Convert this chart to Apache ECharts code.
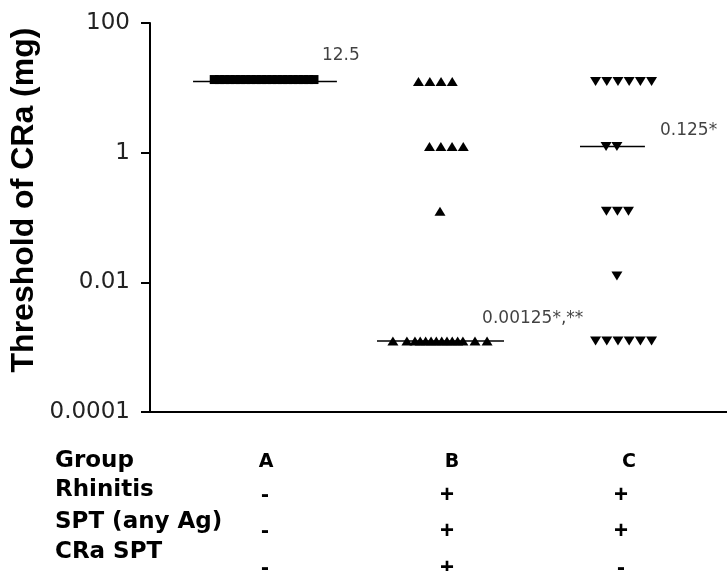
<!DOCTYPE html>
<html>
<head>
<meta charset="utf-8">
<script src="https://cdn.jsdelivr.net/npm/echarts@6/dist/echarts.min.js"></script>
<style>
  html, body { margin: 0; padding: 0; background: #fff; }
  #chart { width: 727px; height: 571px; }
</style>
</head>
<body>
<div id="chart"></div>
<script>
// group centres on the x value axis
const groupX = [1, 2, 3];
const yTickLabels = ['0.0001', '0.01', '1', '100'];

// group A - all at 12.5 mg (drawn as a solid bar of squares)
const aValues = [12.5, 12.5, 12.5, 12.5, 12.5, 12.5, 12.5, 12.5, 12.5, 12.5,
                 12.5, 12.5, 12.5, 12.5, 12.5, 12.5, 12.5, 12.5, 12.5, 12.5];
const aJitter = [-0.29, -0.26, -0.23, -0.20, -0.17, -0.14, -0.11, -0.08, -0.05, -0.02,
                 0.01, 0.04, 0.07, 0.10, 0.13, 0.16, 0.19, 0.22, 0.25, 0.28];

// group B - up triangles
const bValues = [12.5, 12.5, 12.5, 12.5,
                 1.25, 1.25, 1.25, 1.25,
                 0.125,
                 0.00125, 0.00125, 0.00125, 0.00125, 0.00125, 0.00125, 0.00125,
                 0.00125, 0.00125, 0.00125, 0.00125, 0.00125, 0.00125, 0.00125];
const bJitter = [-0.123, -0.058, 0.006, 0.070,
                 -0.060, 0.005, 0.069, 0.133,
                 0,
                 -0.269, -0.189, -0.143, -0.113, -0.082, -0.051, -0.021,
                 0.010, 0.040, 0.070, 0.101, 0.131, 0.200, 0.269];

// group C - down triangles
const cValues = [12.5, 12.5, 12.5, 12.5, 12.5, 12.5,
                 1.25, 1.25,
                 0.125, 0.125, 0.125,
                 0.0125,
                 0.00125, 0.00125, 0.00125, 0.00125, 0.00125, 0.00125];
const cJitter = [-0.111, -0.047, 0.017, 0.081, 0.145, 0.209,
                 -0.051, 0.011,
                 -0.049, 0.014, 0.077,
                 0.011,
                 -0.111, -0.047, 0.017, 0.081, 0.145, 0.209];

// medians per group
const medians = [12.5, 0.00125, 1.25];
const medianText = ['12.5', '0.00125*,**', '0.125*'];

// table under the plot
const rowLabels = ['Group', 'Rhinitis', 'SPT (any Ag)', 'CRa SPT'];
const groupNames = ['A', 'B', 'C'];
const rhinitis = ['-', '+', '+'];
const sptAny = ['-', '+', '+'];
const craSpt = ['-', '+', '-'];

function pts(center, vals, jit) {
  return vals.map((v, i) => [center + jit[i], v]);
}

// median line extents (left, right offsets from the group centre) and label offsets
const medExtent = [[-0.411, 0.411], [-0.36, 0.366], [-0.2, 0.171]];
const medLabelOffset = [[-15, -26], [-22, -22], [15, -16]];

const chart = echarts.init(document.getElementById('chart'));

const series = [
  {
    type: 'scatter',
    data: pts(groupX[0], aValues, aJitter),
    symbol: 'rect',
    symbolSize: [9, 9],
    symbolOffset: [0, -2],
    itemStyle: { color: '#000', opacity: 1 },
    z: 3
  },
  {
    type: 'scatter',
    data: pts(groupX[1], bValues, bJitter),
    symbol: 'triangle',
    symbolSize: [11, 9],
    itemStyle: { color: '#000', opacity: 1 },
    z: 3
  },
  {
    type: 'scatter',
    data: pts(groupX[2], cValues, cJitter),
    symbol: 'triangle',
    symbolRotate: 180,
    symbolSize: [11, 9],
    itemStyle: { color: '#000', opacity: 1 },
    z: 3
  }
];

medians.forEach((m, i) => {
  series.push({
    type: 'line',
    data: [[groupX[i] + medExtent[i][0], m], [groupX[i] + medExtent[i][1], m]],
    symbol: 'none',
    lineStyle: { color: '#000', width: 1.5 },
    z: 2
  });
  series.push({
    type: 'scatter',
    data: [[groupX[i] + medExtent[i][1], m]],
    symbolSize: 0.1,
    itemStyle: { color: 'rgba(0,0,0,0)' },
    label: {
      show: true,
      position: 'right',
      distance: 0,
      offset: medLabelOffset[i],
      formatter: medianText[i],
      color: '#111',
      fontFamily: 'DejaVu Sans',
      fontSize: 17
    },
    z: 4
  });
});

// y title and the table under the plot
const graphic = [{
  type: 'text',
  x: 24, y: 200,
  rotation: Math.PI / 2,
  style: {
    text: 'Threshold of CRa (mg)',
    fill: '#000',
    font: 'bold 32px "Liberation Sans", Arial, sans-serif',
    textAlign: 'center',
    textVerticalAlign: 'middle'
  }
}];
const labelY = [461, 490, 522, 552];
rowLabels.forEach((t, i) => {
  graphic.push({
    type: 'text', x: 55, y: labelY[i],
    style: { text: t, fill: '#000', font: 'bold 23px "DejaVu Sans", sans-serif',
             textAlign: 'left', textVerticalAlign: 'middle' }
  });
});
const headX = [266, 452, 629];
const signX = [265, 447, 621];
const signY = [495, 531, 568];
groupNames.forEach((g, i) => {
  graphic.push({
    type: 'text', x: headX[i], y: 462,
    style: { text: g, fill: '#000', font: 'bold 19px "DejaVu Sans", sans-serif',
             textAlign: 'center', textVerticalAlign: 'middle' }
  });
  [rhinitis, sptAny, craSpt].forEach((row, r) => {
    graphic.push({
      type: 'text', x: signX[i], y: signY[r],
      style: { text: row[i], fill: '#000', font: 'bold 24px "Liberation Sans", Arial, sans-serif',
               textAlign: 'center', textVerticalAlign: 'middle' }
    });
  });
});

chart.setOption({
  animation: false,
  backgroundColor: '#fff',
  grid: { left: 150, right: 0, top: 23, bottom: 159 },
  xAxis: {
    type: 'value',
    min: 0.343,
    max: 3.64,
    axisLine: { show: true, onZero: false, lineStyle: { color: '#000', width: 2 } },
    axisTick: { show: false },
    axisLabel: { show: false },
    splitLine: { show: false }
  },
  yAxis: {
    type: 'log',
    logBase: 100,
    min: 0.0001,
    max: 100,
    axisLine: { show: true, onZero: false, lineStyle: { color: '#000', width: 2 } },
    axisTick: { show: true, length: 9, lineStyle: { color: '#000', width: 2 } },
    minorTick: { show: false },
    splitLine: { show: false },
    axisLabel: {
      margin: 20,
      color: '#222',
      fontFamily: 'DejaVu Sans',
      fontSize: 23,
      formatter: (v, idx) => yTickLabels[idx]
    }
  },
  graphic: graphic,
  series: series
});
</script>
</body>
</html>
